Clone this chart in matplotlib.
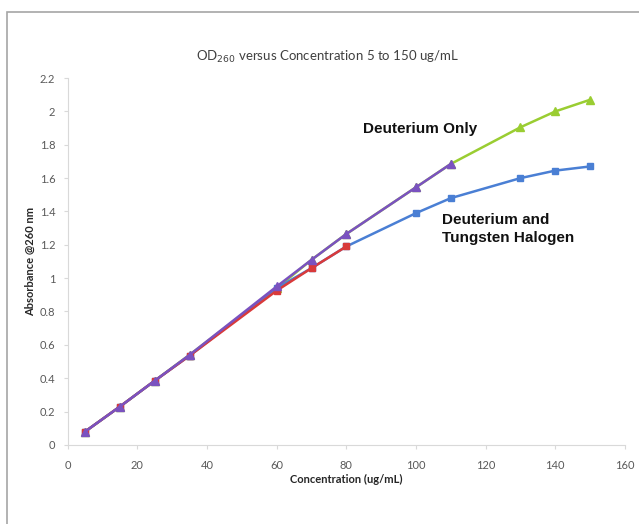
import matplotlib.pyplot as plt
from matplotlib.patches import Rectangle

# concentrations (ug/mL)
conc = [5, 15, 25, 35, 60, 70, 80, 100, 110, 130, 140, 150]

# absorbance readings
deut_only_green = [0.08, 0.23, 0.385, 0.54, 0.94, 1.11, 1.265, 1.545, 1.685, 1.905, 2.0, 2.07]
deut_only_purple = [0.08, 0.23, 0.385, 0.54, 0.95, 1.11, 1.265, 1.545, 1.685]
deut_tung_blue = [0.08, 0.23, 0.385, 0.535, 0.94, 1.06, 1.19, 1.39, 1.48, 1.60, 1.645, 1.67]
deut_tung_red = [0.08, 0.23, 0.385, 0.535, 0.925, 1.06, 1.19]

x_ticks = [0, 20, 40, 60, 80, 100, 120, 140, 160]
y_ticks = [0, 0.2, 0.4, 0.6, 0.8, 1, 1.2, 1.4, 1.6, 1.8, 2, 2.2]
y_tick_labels = ["0", "0.2", "0.4", "0.6", "0.8", "1", "1.2", "1.4", "1.6", "1.8", "2", "2.2"]

plt.rcParams['font.family'] = ['Lato', 'DejaVu Sans']

fig = plt.figure(figsize=(6.39, 5.24), dpi=100)
ax = fig.add_axes([0.106, 0.151, 0.872, 0.700])

# outer chart frame (left and top edges visible)
fig.patches.append(Rectangle((7 / 639, -0.1), 1.2, 1 - 12 / 524 + 0.1,
                             transform=fig.transFigure, fill=False,
                             edgecolor="#a6a6a6", linewidth=1.2))

ax.plot(conc, deut_only_green, color="#9ACD32", marker="^", markersize=6, linewidth=1.8)
ax.plot(conc, deut_tung_blue, color="#4A7FD4", marker="s", markersize=5, linewidth=1.8)
ax.plot(conc[:len(deut_tung_red)], deut_tung_red, color="#D93A3A", marker="s",
        markersize=5, linewidth=1.8)
ax.plot(conc[:len(deut_only_purple)], deut_only_purple, color="#7A52C0", marker="^",
        markersize=6, linewidth=1.8)

ax.set_xlim(0, 160)
ax.set_ylim(0, 2.2)
ax.set_xticks(x_ticks)
ax.set_yticks(y_ticks)
ax.set_yticklabels(y_tick_labels)
ax.tick_params(colors="#d9d9d9", labelcolor="#595959", labelsize=8, length=3)
ax.tick_params(axis="x", pad=8)
ax.tick_params(axis="y", pad=6)

for side in ["top", "right"]:
    ax.spines[side].set_visible(False)
for side in ["left", "bottom"]:
    ax.spines[side].set_color("#d9d9d9")

ax.set_xlabel("Concentration (ug/mL)", fontsize=8, fontweight="bold", color="#262626", labelpad=2)
ax.set_ylabel("Absorbance @260 nm", fontsize=8, fontweight="bold", color="#262626", labelpad=3)
fig.text(0.513, 0.891, r"OD$_{260}$ versus Concentration 5 to 150 ug/mL",
         ha="center", va="center", fontsize=9.5, color="#404040")

fig.text(0.568, 0.754, "Deuterium Only", va="center",
         fontsize=11, fontweight="bold", family=["Liberation Sans"], color="#111111")
fig.text(0.692, 0.563, "Deuterium and\nTungsten Halogen", va="center",
         fontsize=11, fontweight="bold", family=["Liberation Sans"], color="#111111",
         linespacing=1.3)

fig.savefig("out.png", dpi=100)
